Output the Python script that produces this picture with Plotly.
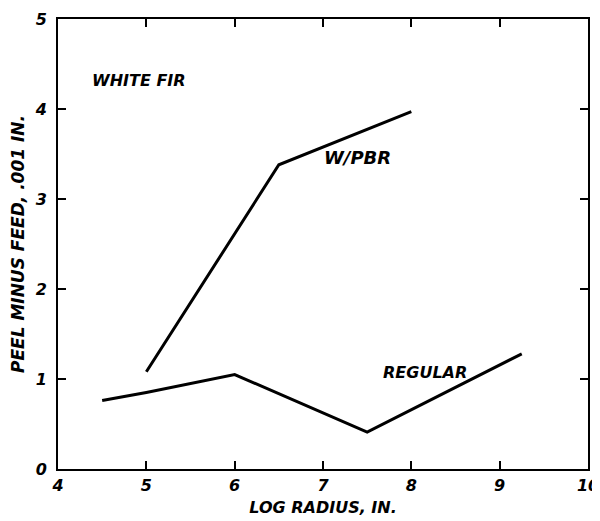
import plotly.graph_objects as go

# Data
pbr_x = [5.0, 6.5, 8.0]
pbr_y = [1.08, 3.38, 3.97]
reg_x = [4.5, 5.0, 6.0, 7.5, 9.25]
reg_y = [0.76, 0.85, 1.05, 0.41, 1.28]
x_ticks = [4, 5, 6, 7, 8, 9, 10]
y_ticks = [0, 1, 2, 3, 4, 5]

FONT = "DejaVu Sans"
def f(size):
    return dict(family=FONT, size=size, color="black", weight="bold", style="italic")

fig = go.Figure()
fig.add_trace(go.Scatter(x=pbr_x, y=pbr_y, mode="lines",
                         line=dict(color="black", width=3), showlegend=False))
fig.add_trace(go.Scatter(x=reg_x, y=reg_y, mode="lines",
                         line=dict(color="black", width=3), showlegend=False))

fig.add_annotation(x=4.36, y=4.32, text="WHITE FIR", showarrow=False,
                   xanchor="left", yanchor="middle", font=f(16))
fig.add_annotation(x=7.39, y=3.46, text="W/PBR", showarrow=False,
                   xanchor="center", yanchor="middle", font=f(18))
fig.add_annotation(x=8.15, y=1.07, text="REGULAR", showarrow=False,
                   xanchor="center", yanchor="middle", font=f(16))

axis_common = dict(showgrid=False, zeroline=False, showline=True, linecolor="black",
                   linewidth=2, mirror="ticks", ticks="inside", ticklen=8,
                   tickwidth=2, tickcolor="black", automargin=False,
                   tickfont=f(16))

fig.update_xaxes(range=[4, 10], tickvals=x_ticks, ticktext=[str(v) for v in x_ticks],
                 title=dict(text="LOG RADIUS, IN.", standoff=8, font=f(16)),
                 ticklabelstandoff=1,
                 **axis_common)
fig.update_yaxes(range=[0, 5], tickvals=y_ticks, ticktext=[str(v) for v in y_ticks],
                 title=dict(text="PEEL MINUS FEED, .001 IN.", standoff=7, font=f(17)),
                 ticklabelstandoff=6,
                 **axis_common)

fig.update_layout(width=600, height=521, plot_bgcolor="white", paper_bgcolor="white",
                  margin=dict(l=50, r=20, t=11, b=60), showlegend=False)

fig.write_html("out.html")
